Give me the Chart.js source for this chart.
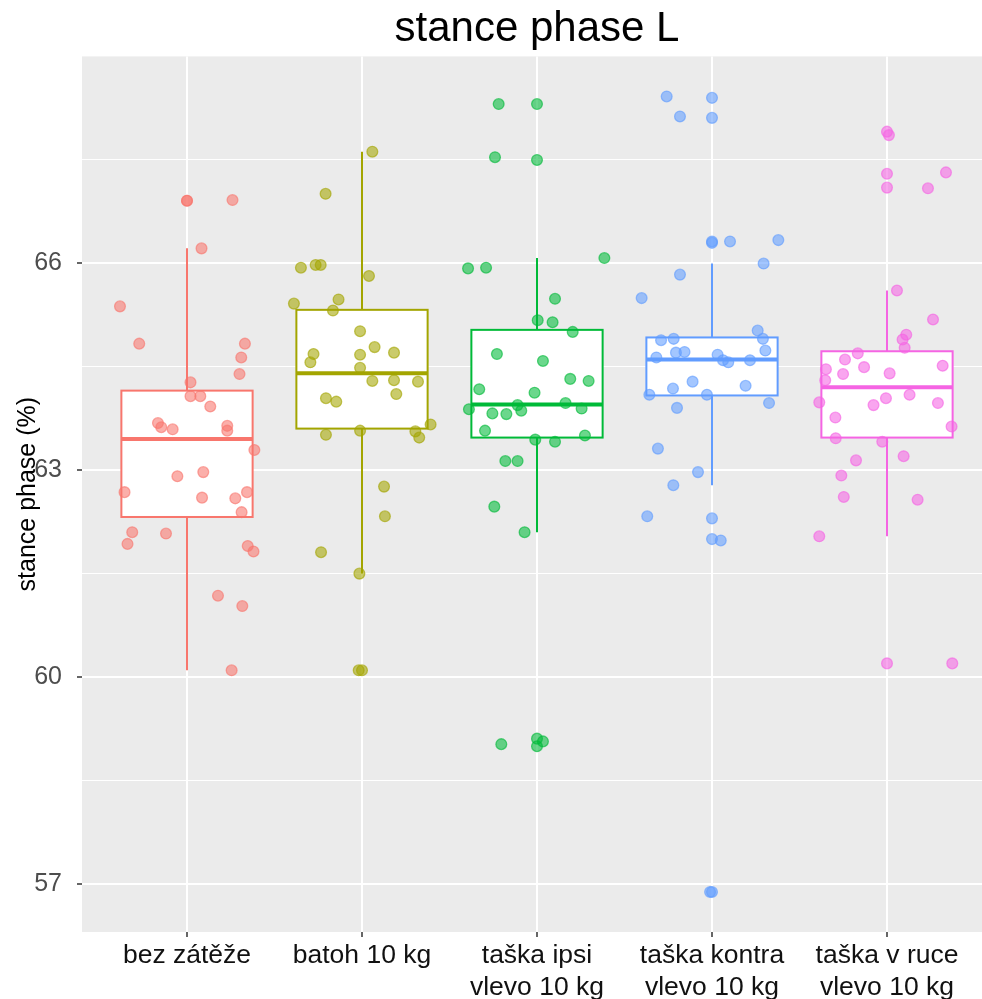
<!DOCTYPE html>
<html>
<head>
<meta charset="utf-8">
<title>stance phase L</title>
<script src="https://cdn.jsdelivr.net/npm/chart.js@4.4.0/dist/chart.umd.min.js"></script>
<style>
  html, body { margin: 0; padding: 0; background: #fff; overflow: hidden; }
  /* the panel runs on past the right edge, so the canvas is a bit wider than the view */
  #wrap { width: 982px; height: 999px; overflow: hidden; }
  #chart { display: block; }
</style>
</head>
<body>
<div id="wrap"><canvas id="chart" width="992" height="999"></canvas></div>
<script>
// groups on the x axis (line breaks split the long labels)
const categories = [
    'bez zátěže',
    'batoh 10 kg',
    'taška ipsi\nvlevo 10 kg',
    'taška kontra\nvlevo 10 kg',
    'taška v ruce\nvlevo 10 kg'
];
const colors = ['#F8766D', '#A3A500', '#00BA38', '#619CFF', '#F564E3'];

// measured stance phase (%) per subject, one list per group
const bezZateze = [66.91, 66.90, 66.21, 65.37, 64.83, 64.83, 64.63, 64.39, 64.27, 64.07, 64.07, 63.92, 63.68, 63.62, 63.59, 63.64, 63.57,
    63.29, 62.91, 62.97, 62.68, 62.60, 62.59, 62.68, 62.39, 62.10, 62.08, 61.93, 61.90, 61.82, 61.18, 61.03, 60.10];
const batoh = [67.61, 67.00, 65.93, 65.97, 65.97, 65.81, 65.41, 65.47, 65.31, 65.01, 64.78, 64.70, 64.68, 64.56, 64.67, 64.48,
    64.29, 64.30, 64.28, 64.10, 64.04, 63.99, 63.66, 63.56, 63.47, 63.57, 63.51, 62.76, 62.33, 61.81, 61.50, 60.10];
const taskaIpsi = [68.30, 67.53, 65.92, 65.93, 66.07, 65.48, 65.17, 65.14, 65.00, 64.68, 64.58, 64.32, 64.29, 64.17, 64.12, 63.94,
    63.97, 63.88, 63.86, 63.89, 63.82, 63.81, 63.57, 63.50, 63.44, 63.41, 63.13, 63.13, 62.47, 62.10, 59.03, 59.07];
const taskaKontra = [68.41, 68.12, 66.31, 66.33, 65.99, 65.83, 65.49, 65.02, 64.90, 64.88, 64.90, 64.73, 64.70, 64.71, 64.63, 64.67,
    64.59, 64.56, 64.59, 64.28, 64.18, 64.22, 64.09, 64.09, 63.90, 63.97, 63.31, 62.97, 62.78, 62.33, 61.98, 56.89];
const taskaRuce = [67.85, 67.31, 67.08, 65.60, 65.18, 64.96, 64.89, 64.77, 64.69, 64.60, 64.46, 64.49, 64.51, 64.39, 64.40, 64.30,
    63.98, 64.04, 63.94, 64.09, 63.97, 63.76, 63.63, 63.46, 63.41, 63.14, 63.20, 62.92, 62.61, 62.57, 62.04, 60.20];

// horizontal jitter of each point, in category units
const jitterBez = [0.26, 0.0, 0.083, -0.383, -0.273, 0.331, 0.31, 0.30, 0.02, 0.02, 0.076, 0.133, -0.166, -0.147, -0.082, 0.23, 0.23,
    0.385, -0.055, 0.093, -0.357, 0.086, 0.276, 0.343, 0.312, -0.313, -0.12, -0.34, 0.347, 0.38, 0.177, 0.316, 0.255];
const jitterBatoh = [0.059, -0.208, -0.349, -0.265, -0.236, 0.04, -0.389, -0.134, -0.166, -0.011, 0.072, 0.183, -0.277, -0.295, -0.011, -0.011,
    0.059, 0.183, 0.32, 0.196, -0.206, -0.147, 0.392, 0.305, 0.327, -0.011, -0.206, 0.126, 0.131, -0.234, -0.015, -0.019];
const jitterIpsi = [-0.219, -0.24, -0.394, -0.291, 0.385, 0.103, 0.004, 0.089, 0.204, -0.229, 0.034, 0.19, 0.295, -0.33, -0.014, -0.111,
    0.163, -0.389, -0.09, 0.255, -0.255, -0.175, -0.297, 0.274, -0.01, 0.103, -0.181, -0.111, -0.244, -0.071, -0.204, 0.034];
const jitterKontra = [-0.259, -0.183, 0.103, 0.379, 0.295, -0.183, -0.402, 0.261, 0.291, -0.291, -0.219, 0.305, -0.206, -0.157, -0.318, 0.032,
    0.063, 0.093, 0.217, -0.111, -0.223, 0.192, -0.358, -0.029, -0.2, 0.326, -0.309, -0.08, -0.221, -0.37, 0.05, -0.011];
const jitterRuce = [0.011, 0.337, 0.234, 0.057, 0.263, 0.11, 0.089, 0.101, -0.167, -0.24, -0.349, -0.131, 0.318, -0.251, 0.015, -0.353,
    -0.387, -0.006, -0.077, 0.129, 0.291, -0.295, 0.369, -0.293, -0.027, -0.177, 0.095, -0.261, -0.247, 0.175, -0.387, 0.373];

// boxplot statistics per group
const whiskerLow = [60.10, 61.50, 62.10, 62.78, 62.04];
const q1 = [62.32, 63.60, 63.47, 64.08, 63.47];
const median = [63.45, 64.40, 63.95, 64.60, 64.20];
const q3 = [64.15, 65.32, 65.03, 64.92, 64.72];
const whiskerHigh = [66.21, 67.61, 66.07, 65.99, 65.60];
const outliers = [
    [66.90],
    [60.10],
    [68.30, 67.49, 59.11, 59.00],
    [68.39, 68.10, 66.29, 66.31, 62.30, 62.00, 56.89],
    [67.90, 67.29, 67.09, 60.20]
];

const yTicks = [57, 58.5, 60, 61.5, 63, 64.5, 66, 67.5];
const yMin = 56.31, yMax = 68.99;

const groups = [bezZateze, batoh, taskaIpsi, taskaKontra, taskaRuce];
const jitters = [jitterBez, jitterBatoh, jitterIpsi, jitterKontra, jitterRuce];

const FONT = '"Liberation Sans", Arial, Helvetica, sans-serif';

function rgba(hex, a) {
    const n = parseInt(hex.slice(1), 16);
    return 'rgba(' + (n >> 16) + ',' + ((n >> 8) & 255) + ',' + (n & 255) + ',' + a + ')';
}
function isMajor(v) { return Math.abs(v / 3 - Math.round(v / 3)) < 1e-6; }

// grey panel behind the grid
const panelPlugin = {
    id: 'panel',
    beforeDraw(chart) {
        const ctx = chart.ctx, a = chart.chartArea;
        ctx.save();
        ctx.fillStyle = '#fff';
        ctx.fillRect(0, 0, chart.width, chart.height);
        ctx.fillStyle = '#EBEBEB';
        ctx.fillRect(a.left, a.top, a.right - a.left, a.bottom - a.top);
        ctx.restore();
    }
};

// boxes + whiskers, drawn under the points
const boxPlugin = {
    id: 'boxes',
    beforeDatasetsDraw(chart) {
        const ctx = chart.ctx, xs = chart.scales.x, ys = chart.scales.y;
        ctx.save();
        categories.forEach(function (c, i) {
            const pos = i + 1;
            const xl = xs.getPixelForValue(pos - 0.375);
            const xr = xs.getPixelForValue(pos + 0.375);
            const xc = xs.getPixelForValue(pos);
            const yLo = ys.getPixelForValue(whiskerLow[i]);
            const yQ1 = ys.getPixelForValue(q1[i]);
            const yMed = ys.getPixelForValue(median[i]);
            const yQ3 = ys.getPixelForValue(q3[i]);
            const yHi = ys.getPixelForValue(whiskerHigh[i]);
            ctx.strokeStyle = colors[i];
            ctx.lineWidth = 2;
            ctx.beginPath();
            ctx.moveTo(xc, yHi); ctx.lineTo(xc, yQ3);
            ctx.moveTo(xc, yQ1); ctx.lineTo(xc, yLo);
            ctx.stroke();
            ctx.fillStyle = '#fff';
            ctx.fillRect(xl, yQ3, xr - xl, yQ1 - yQ3);
            ctx.strokeRect(xl, yQ3, xr - xl, yQ1 - yQ3);
            ctx.lineWidth = 4;
            ctx.beginPath();
            ctx.moveTo(xl, yMed); ctx.lineTo(xr, yMed);
            ctx.stroke();
        });
        ctx.restore();
    }
};

const datasets = [];
groups.forEach(function (vals, i) {
    datasets.push({
        label: categories[i],
        order: 1,
        data: vals.map(function (v, j) { return { x: i + 1 + jitters[i][j], y: v }; }),
        backgroundColor: rgba(colors[i], 0.58),
        borderColor: rgba(colors[i], 0.62),
        borderWidth: 1.3,
        pointRadius: 5.4
    });
    datasets.push({
        label: categories[i] + ' outliers',
        order: 2,
        data: outliers[i].map(function (v) { return { x: i + 1, y: v }; }),
        backgroundColor: rgba(colors[i], 0.58),
        borderColor: rgba(colors[i], 0.62),
        borderWidth: 1.3,
        pointRadius: 5.4
    });
});

new Chart(document.getElementById('chart'), {
    type: 'scatter',
    data: { datasets: datasets },
    plugins: [panelPlugin, boxPlugin],
    options: {
        responsive: false,
        animation: false,
        devicePixelRatio: 1,
        events: [],
        layout: { padding: 0, autoPadding: false },
        plugins: {
            legend: { display: false },
            tooltip: { enabled: false },
            title: {
                display: true,
                text: 'stance phase L',
                fullSize: false,
                color: '#000',
                font: { family: FONT, size: 42, weight: 'normal' },
                padding: { top: 4, bottom: 2 }
            }
        },
        scales: {
            x: {
                type: 'linear',
                min: 0.4,
                max: 5.6,
                afterBuildTicks: function (s) { s.ticks = categories.map(function (c, i) { return { value: i + 1 }; }); },
                afterFit: function (s) { s.height = 67; s.paddingLeft = 0; s.paddingRight = 0; },
                border: { display: false },
                grid: { color: '#fff', lineWidth: 2, tickColor: '#333', tickLength: 5, tickWidth: 1.5 },
                ticks: {
                    autoSkip: false,
                    maxRotation: 0,
                    padding: 3,
                    color: '#111',
                    font: { family: FONT, size: 26.5 },
                    callback: function (v) { return categories[Math.round(v) - 1].split('\n'); }
                }
            },
            y: {
                min: yMin,
                max: yMax,
                afterBuildTicks: function (s) { s.ticks = yTicks.map(function (v) { return { value: v }; }); },
                afterFit: function (s) { s.width = 82; },
                border: { display: false },
                grid: {
                    color: '#fff',
                    lineWidth: function (c) { return c.tick && isMajor(c.tick.value) ? 2 : 1; },
                    tickColor: function (c) { return c.tick && isMajor(c.tick.value) ? '#333' : 'rgba(0,0,0,0)'; },
                    tickLength: 5,
                    tickWidth: 1.5
                },
                ticks: {
                    padding: 15,
                    color: '#4D4D4D',
                    font: { family: FONT, size: 25 },
                    callback: function (v) { return isMajor(v) ? String(v) : ''; }
                },
                title: {
                    display: true,
                    text: 'stance phase (%)',
                    color: '#000',
                    font: { family: FONT, size: 25 },
                    padding: { top: 13, bottom: 0 }
                }
            }
        }
    }
});
</script>
</body>
</html>
